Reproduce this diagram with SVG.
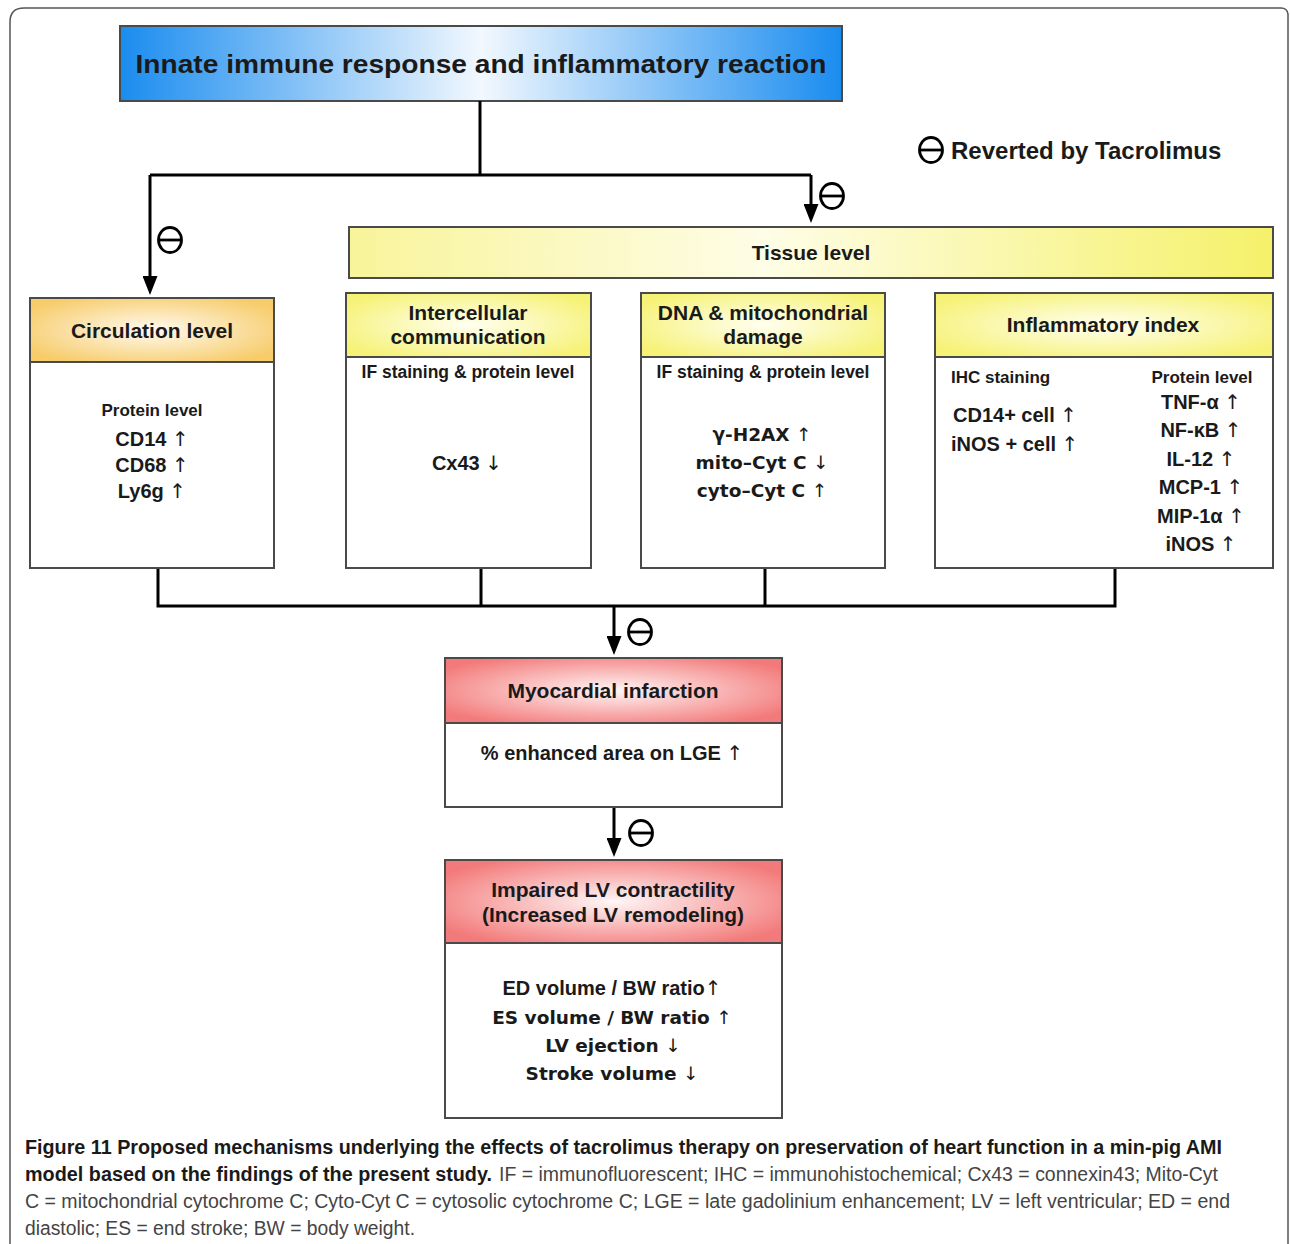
<svg xmlns="http://www.w3.org/2000/svg" width="1290" height="1244" viewBox="0 0 1290 1244">
<style>
.box{fill:#fff;stroke:#4a4a4a;stroke-width:2}
.hd{stroke:#4a4a4a;stroke-width:2}
.t{font-family:"Liberation Sans",Arial,sans-serif;font-weight:bold;fill:#1a1a1a;text-anchor:middle}
.h{font-size:21px}
.s{font-size:17.5px}
.b{font-size:20px}
.l{font-family:"DejaVu Sans",sans-serif;font-size:18.5px}
.st{text-anchor:start}
.a{font-family:"DejaVu Sans",sans-serif;font-weight:normal}
.con{fill:none;stroke:#000;stroke-width:3}
.sym{fill:none;stroke:#000;stroke-width:2.8}
.cap{font-family:"Liberation Sans",Arial,sans-serif;font-size:19.5px}
.cb{font-weight:bold;fill:#1a1a1a}
.cn{fill:#444}
</style>
<defs>
<marker id="arr" viewBox="0 0 15 19" refX="7.5" refY="8" markerWidth="15" markerHeight="19" markerUnits="userSpaceOnUse" orient="0">
<path d="M0,0 L15,0 L7.5,19 Z" fill="#000"/>
</marker>
<linearGradient id="gBlue" x1="0" y1="0" x2="1" y2="0">
<stop offset="0" stop-color="#1a8cef"/><stop offset="0.5" stop-color="#f2f8fe"/><stop offset="1" stop-color="#1a8cef"/>
</linearGradient>
<radialGradient id="gYel" cx="0.5" cy="0.5" r="0.6">
<stop offset="0" stop-color="#fffff0"/><stop offset="1" stop-color="#f6f277"/>
</radialGradient>
<linearGradient id="gTis" x1="0" y1="0" x2="1" y2="0">
<stop offset="0" stop-color="#f8f49a"/><stop offset="0.45" stop-color="#fefde6"/><stop offset="1" stop-color="#f5f16a"/>
</linearGradient>
<radialGradient id="gOr" cx="0.5" cy="0.5" r="0.6">
<stop offset="0" stop-color="#fffaf0"/><stop offset="1" stop-color="#f7cc6a"/>
</radialGradient>
<radialGradient id="gRed" cx="0.5" cy="0.5" r="0.6">
<stop offset="0" stop-color="#fff6f6"/><stop offset="1" stop-color="#f37a7a"/>
</radialGradient>
<g id="minus"><ellipse cx="0" cy="0" rx="11.5" ry="12.5" class="sym"/><line x1="-11.5" y1="0" x2="11.5" y2="0" class="sym"/></g>
</defs>
<rect width="1290" height="1244" fill="#fff"/>
<path d="M10,1250 L10,22 Q10,8 24,8 L1281,8 Q1287,8 1288,14 L1288,1250" fill="none" stroke="#555" stroke-width="1.5"/>

<g id="title">
<rect x="120" y="26" width="722" height="75" fill="url(#gBlue)" stroke="#4a4a4a" stroke-width="2"/>
<text x="481" y="72.5" class="t" font-size="26" textLength="691" lengthAdjust="spacingAndGlyphs">Innate immune response and inflammatory reaction</text>
</g>

<g id="legend">
<use href="#minus" x="931" y="150"/>
<text x="951" y="158.5" class="t st" font-size="24">Reverted by Tacrolimus</text>
</g>

<g id="connectors">
<polyline class="con" points="480,101 480,175"/>
<polyline class="con" points="150,175 811,175"/>
<line class="con" x1="150" y1="175" x2="150" y2="284" marker-end="url(#arr)"/>
<line class="con" x1="811" y1="175" x2="811" y2="212" marker-end="url(#arr)"/>
<polyline class="con" points="158,568 158,606 1115,606 1115,568"/>
<line class="con" x1="481" y1="568" x2="481" y2="606"/>
<line class="con" x1="765" y1="568" x2="765" y2="606"/>
<line class="con" x1="614" y1="606" x2="614" y2="644" marker-end="url(#arr)"/>
<line class="con" x1="614" y1="807" x2="614" y2="846" marker-end="url(#arr)"/>
<use href="#minus" x="170" y="240"/>
<use href="#minus" x="832" y="196"/>
<use href="#minus" x="640" y="632"/>
<use href="#minus" x="641" y="833"/>
</g>

<g id="tissue">
<rect x="349" y="227" width="924" height="51" fill="url(#gTis)" stroke="#4a4a4a" stroke-width="2"/>
<text x="811" y="259.5" class="t h">Tissue level</text>
</g>

<g id="circulation">
<rect x="30" y="298" width="244" height="270" class="box"/>
<rect x="30" y="298" width="244" height="64" fill="url(#gOr)" class="hd"/>
<text x="152" y="337.5" class="t h">Circulation level</text>
<text x="152" y="416" class="t" font-size="17">Protein level</text>
<text x="152" y="446" class="t b">CD14 <tspan class="a">↑</tspan></text>
<text x="152" y="472" class="t b">CD68 <tspan class="a">↑</tspan></text>
<text x="152" y="498" class="t b">Ly6g <tspan class="a">↑</tspan></text>
</g>

<g id="intercellular">
<rect x="346" y="293" width="245" height="275" class="box"/>
<rect x="346" y="293" width="245" height="64" fill="url(#gYel)" class="hd"/>
<text x="468" y="319.5" class="t h">Intercellular</text>
<text x="468" y="343.5" class="t h">communication</text>
<text x="468" y="378" class="t s">IF staining &amp; protein level</text>
<text x="467" y="470" class="t b">Cx43 <tspan class="a">↓</tspan></text>
</g>

<g id="dna">
<rect x="641" y="293" width="244" height="275" class="box"/>
<rect x="641" y="293" width="244" height="64" fill="url(#gYel)" class="hd"/>
<text x="763" y="319.5" class="t h">DNA &amp; mitochondrial</text>
<text x="763" y="343.5" class="t h">damage</text>
<text x="763" y="378" class="t s">IF staining &amp; protein level</text>
<text x="762" y="441" class="t l">γ-H2AX <tspan class="a">↑</tspan></text>
<text x="762" y="469" class="t l">mito–Cyt C <tspan class="a">↓</tspan></text>
<text x="762" y="497" class="t l">cyto–Cyt C <tspan class="a">↑</tspan></text>
</g>

<g id="inflammatory">
<rect x="935" y="293" width="338" height="275" class="box"/>
<rect x="935" y="293" width="338" height="64" fill="url(#gYel)" class="hd"/>
<text x="1103" y="331.5" class="t h">Inflammatory index</text>
<text x="951" y="383" class="t st" font-size="17">IHC staining</text>
<text x="953" y="422" class="t st b">CD14+ cell <tspan class="a">↑</tspan></text>
<text x="951" y="451" class="t st b">iNOS + cell <tspan class="a">↑</tspan></text>
<text x="1202" y="383" class="t" font-size="17">Protein level</text>
<text x="1201" y="409" class="t b">TNF-α <tspan class="a">↑</tspan></text>
<text x="1201" y="437" class="t b">NF-κB <tspan class="a">↑</tspan></text>
<text x="1201" y="466" class="t b">IL-12 <tspan class="a">↑</tspan></text>
<text x="1201" y="494" class="t b">MCP-1 <tspan class="a">↑</tspan></text>
<text x="1201" y="523" class="t b">MIP-1α <tspan class="a">↑</tspan></text>
<text x="1201" y="551" class="t b">iNOS <tspan class="a">↑</tspan></text>
</g>

<g id="mi">
<rect x="445" y="658" width="337" height="149" class="box"/>
<rect x="445" y="658" width="337" height="65" fill="url(#gRed)" class="hd"/>
<text x="613" y="697.5" class="t h">Myocardial infarction</text>
<text x="612" y="760" class="t b">% enhanced area on LGE <tspan class="a">↑</tspan></text>
</g>

<g id="impaired">
<rect x="445" y="860" width="337" height="258" class="box"/>
<rect x="445" y="860" width="337" height="83" fill="url(#gRed)" class="hd"/>
<text x="613" y="896.5" class="t h">Impaired LV contractility</text>
<text x="613" y="921.5" class="t h">(Increased LV remodeling)</text>
<text x="612" y="995" class="t b">ED volume / BW ratio<tspan class="a">↑</tspan></text>
<text x="612" y="1024" class="t l">ES volume  /  BW ratio <tspan class="a">↑</tspan></text>
<text x="613" y="1052" class="t l">LV ejection <tspan class="a">↓</tspan></text>
<text x="612" y="1080" class="t l">Stroke volume <tspan class="a">↓</tspan></text>
</g>

<g id="caption" class="cap">
<text x="25" y="1154" class="cb" textLength="1197" lengthAdjust="spacingAndGlyphs">Figure 11 Proposed mechanisms underlying the effects of tacrolimus therapy on preservation of heart function in a min-pig AMI</text>
<text x="25" y="1181" class="cb" textLength="467" lengthAdjust="spacingAndGlyphs">model based on the findings of the present study.</text>
<text x="499" y="1181" class="cn" textLength="719" lengthAdjust="spacingAndGlyphs">IF = immunofluorescent; IHC = immunohistochemical; Cx43 = connexin43; Mito-Cyt</text>
<text x="25" y="1208" class="cn" textLength="1205" lengthAdjust="spacingAndGlyphs">C = mitochondrial cytochrome C; Cyto-Cyt C = cytosolic cytochrome C; LGE = late gadolinium enhancement; LV = left ventricular; ED = end</text>
<text x="25" y="1235" class="cn" textLength="390" lengthAdjust="spacingAndGlyphs">diastolic; ES = end stroke; BW = body weight.</text>
</g>
</svg>
